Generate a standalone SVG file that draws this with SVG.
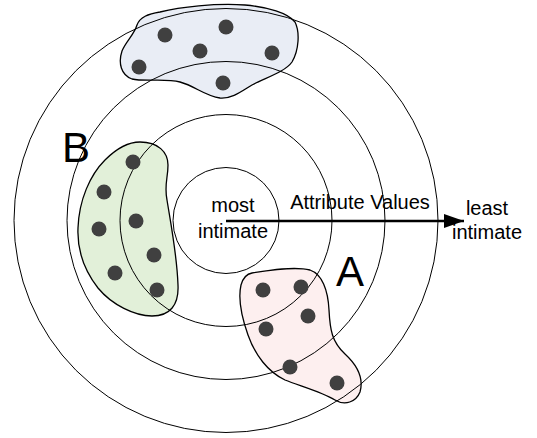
<svg xmlns="http://www.w3.org/2000/svg" width="537" height="438" viewBox="0 0 537 438">
<defs>
<style>
.blob{stroke:#000;stroke-width:1.3}
.ring{fill:none;stroke:#000;stroke-width:1}
.dot{fill:#404040}
.t{font-family:"Liberation Sans",Arial,sans-serif;font-size:20px;fill:#000}
.big{font-family:"Liberation Sans",Arial,sans-serif;font-size:42px;fill:#000}
</style>
<marker id="ah" markerWidth="20" markerHeight="14" refX="20" refY="7" orient="auto" markerUnits="userSpaceOnUse">
<path d="M0,0 L20,7 L0,14 Z" fill="#000"/>
</marker>
</defs>
<rect width="537" height="438" fill="#fff"/>
<g id="cluster-top">
<path class="blob" fill="#E9EDF5" d="M137,25 C140,17 148,14 160,12 C180,7 215,3 245,5 C268,7 288,13 295,22 C300,32 299,50 292,62 C285,72 265,78 252,85 C242,91 232,99 220,98 C205,96 195,86 180,82 C165,78 145,82 132,79 C121,75 118,63 122,51 C126,41 134,35 137,25 Z"/>
</g>
<g id="cluster-B">
<path class="blob" fill="#E2F0D9" d="M140,142 C158,142 168,152 168,165 C168,178 164,185 167,200 C171,225 177,255 178,285 C179,305 170,316 152,316 C135,316 112,305 98,288 C84,270 77,250 78,228 C79,200 90,175 105,160 C115,150 127,142 140,142 Z"/>
</g>
<g id="cluster-A">
<path class="blob" fill="#FDEFEF" d="M252,273 C270,270 295,266 310,270 C322,274 328,290 329,310 C330,330 332,342 345,354 C358,366 364,378 360,392 C356,402 345,406 335,400 C322,392 300,386 285,380 C268,372 255,355 248,335 C242,318 238,298 241,285 C243,278 246,274 252,273 Z"/>
</g>
<g id="rings">
<circle class="ring" cx="226" cy="220.5" r="53"/>
<circle class="ring" cx="226" cy="220.5" r="106"/>
<circle class="ring" cx="226" cy="220.5" r="159"/>
<circle class="ring" cx="226" cy="220.5" r="212"/>
</g>
<g id="dots-top">
<circle class="dot" cx="165" cy="35" r="7.5"/>
<circle class="dot" cx="226" cy="27" r="7.5"/>
<circle class="dot" cx="200" cy="51" r="7.5"/>
<circle class="dot" cx="272" cy="53" r="7.5"/>
<circle class="dot" cx="139" cy="67" r="7.5"/>
<circle class="dot" cx="223" cy="83" r="7.5"/>
</g>
<g id="dots-B">
<circle class="dot" cx="133" cy="162" r="7.5"/>
<circle class="dot" cx="104" cy="192" r="7.5"/>
<circle class="dot" cx="136" cy="221" r="7.5"/>
<circle class="dot" cx="99" cy="229" r="7.5"/>
<circle class="dot" cx="154" cy="255" r="7.5"/>
<circle class="dot" cx="115" cy="273" r="7.5"/>
<circle class="dot" cx="157" cy="290" r="7.5"/>
</g>
<g id="dots-A">
<circle class="dot" cx="263" cy="290" r="7.5"/>
<circle class="dot" cx="301" cy="287" r="7.5"/>
<circle class="dot" cx="308" cy="316" r="7.5"/>
<circle class="dot" cx="266" cy="329" r="7.5"/>
<circle class="dot" cx="290" cy="367" r="7.5"/>
<circle class="dot" cx="337" cy="383" r="7.5"/>
</g>
<g id="connectors">
<line x1="226" y1="221" x2="464" y2="221" stroke="#000" stroke-width="2.5" marker-end="url(#ah)"/>
</g>
<g id="labels">
<text class="big" x="62" y="162">B</text>
<text class="big" x="336" y="286">A</text>
<text class="t" x="233" y="212" text-anchor="middle">most</text>
<text class="t" x="233" y="237.5" text-anchor="middle">intimate</text>
<text class="t" x="360" y="209" text-anchor="middle">Attribute Values</text>
<text class="t" x="487" y="215" text-anchor="middle">least</text>
<text class="t" x="487" y="239" text-anchor="middle">intimate</text>
</g>
</svg>
